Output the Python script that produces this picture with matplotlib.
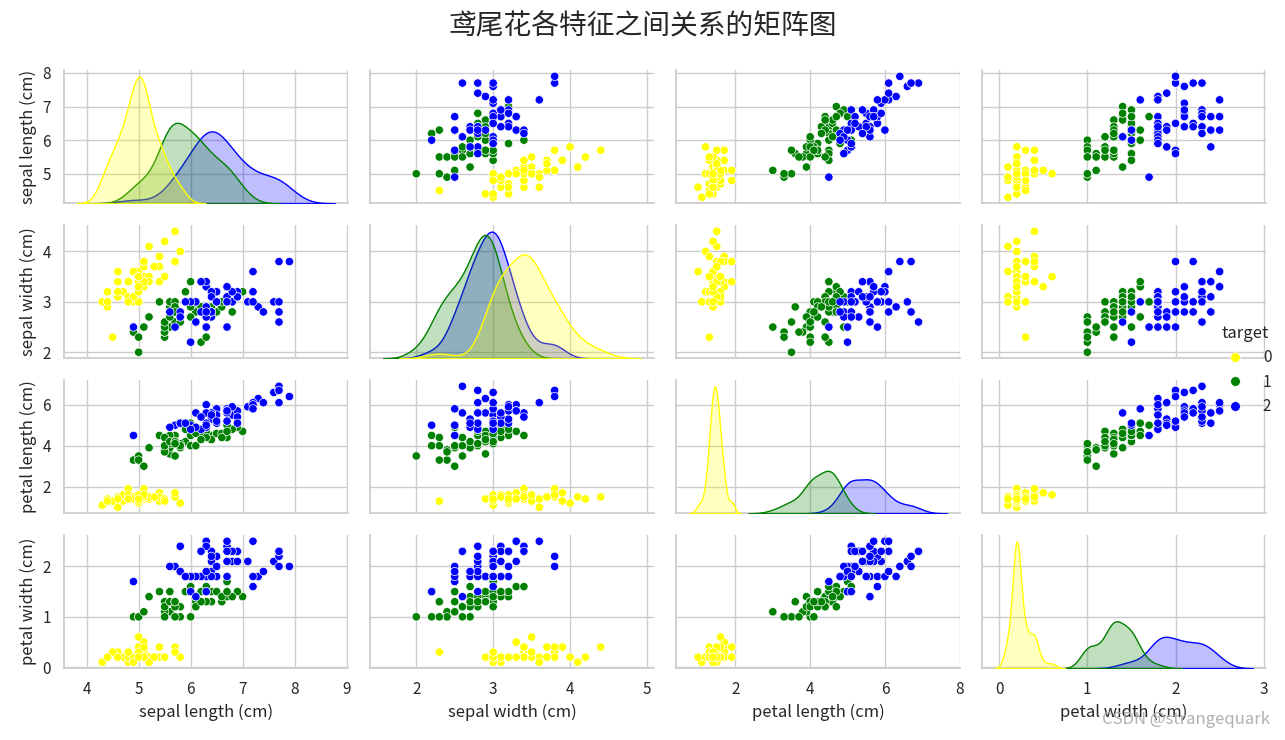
import matplotlib
matplotlib.use("Agg")
import matplotlib.pyplot as plt
import seaborn as sns
import pandas as pd

# iris data, one list per feature
sepal_length = [
    5.1, 4.9, 4.7, 4.6, 5.0, 5.4, 4.6, 5.0, 4.4, 4.9, 5.4, 4.8, 4.8, 4.3, 5.8, 5.7, 5.4, 5.1, 5.7, 5.1,
    5.4, 5.1, 4.6, 5.1, 4.8, 5.0, 5.0, 5.2, 5.2, 4.7, 4.8, 5.4, 5.2, 5.5, 4.9, 5.0, 5.5, 4.9, 4.4, 5.1,
    5.0, 4.5, 4.4, 5.0, 5.1, 4.8, 5.1, 4.6, 5.3, 5.0,
    7.0, 6.4, 6.9, 5.5, 6.5, 5.7, 6.3, 4.9, 6.6, 5.2, 5.0, 5.9, 6.0, 6.1, 5.6, 6.7, 5.6, 5.8, 6.2, 5.6,
    5.9, 6.1, 6.3, 6.1, 6.4, 6.6, 6.8, 6.7, 6.0, 5.7, 5.5, 5.5, 5.8, 6.0, 5.4, 6.0, 6.7, 6.3, 5.6, 5.5,
    5.5, 6.1, 5.8, 5.0, 5.6, 5.7, 5.7, 6.2, 5.1, 5.7,
    6.3, 5.8, 7.1, 6.3, 6.5, 7.6, 4.9, 7.3, 6.7, 7.2, 6.5, 6.4, 6.8, 5.7, 5.8, 6.4, 6.5, 7.7, 7.7, 6.0,
    6.9, 5.6, 7.7, 6.3, 6.7, 7.2, 6.2, 6.1, 6.4, 7.2, 7.4, 7.9, 6.4, 6.3, 6.1, 7.7, 6.3, 6.4, 6.0, 6.9,
    6.7, 6.9, 5.8, 6.8, 6.7, 6.7, 6.3, 6.5, 6.2, 5.9,
]
sepal_width = [
    3.5, 3.0, 3.2, 3.1, 3.6, 3.9, 3.4, 3.4, 2.9, 3.1, 3.7, 3.4, 3.0, 3.0, 4.0, 4.4, 3.9, 3.5, 3.8, 3.8,
    3.4, 3.7, 3.6, 3.3, 3.4, 3.0, 3.4, 3.5, 3.4, 3.2, 3.1, 3.4, 4.1, 4.2, 3.1, 3.2, 3.5, 3.6, 3.0, 3.4,
    3.5, 2.3, 3.2, 3.5, 3.8, 3.0, 3.8, 3.2, 3.7, 3.3,
    3.2, 3.2, 3.1, 2.3, 2.8, 2.8, 3.3, 2.4, 2.9, 2.7, 2.0, 3.0, 2.2, 2.9, 2.9, 3.1, 3.0, 2.7, 2.2, 2.5,
    3.2, 2.8, 2.5, 2.8, 2.9, 3.0, 2.8, 3.0, 2.9, 2.6, 2.4, 2.4, 2.7, 2.7, 3.0, 3.4, 3.1, 2.3, 3.0, 2.5,
    2.6, 3.0, 2.6, 2.3, 2.7, 3.0, 2.9, 2.9, 2.5, 2.8,
    3.3, 2.7, 3.0, 2.9, 3.0, 3.0, 2.5, 2.9, 2.5, 3.6, 3.2, 2.7, 3.0, 2.5, 2.8, 3.2, 3.0, 3.8, 2.6, 2.2,
    3.2, 2.8, 2.8, 2.7, 3.3, 3.2, 2.8, 3.0, 2.8, 3.0, 2.8, 3.8, 2.8, 2.8, 2.6, 3.0, 3.4, 3.1, 3.0, 3.1,
    3.1, 3.1, 2.7, 3.2, 3.3, 3.0, 2.5, 3.0, 3.4, 3.0,
]
petal_length = [
    1.4, 1.4, 1.3, 1.5, 1.4, 1.7, 1.4, 1.5, 1.4, 1.5, 1.5, 1.6, 1.4, 1.1, 1.2, 1.5, 1.3, 1.4, 1.7, 1.5,
    1.7, 1.5, 1.0, 1.7, 1.9, 1.6, 1.6, 1.5, 1.4, 1.6, 1.6, 1.5, 1.5, 1.4, 1.5, 1.2, 1.3, 1.4, 1.3, 1.5,
    1.3, 1.3, 1.3, 1.6, 1.9, 1.4, 1.6, 1.4, 1.5, 1.4,
    4.7, 4.5, 4.9, 4.0, 4.6, 4.5, 4.7, 3.3, 4.6, 3.9, 3.5, 4.2, 4.0, 4.7, 3.6, 4.4, 4.5, 4.1, 4.5, 3.9,
    4.8, 4.0, 4.9, 4.7, 4.3, 4.4, 4.8, 5.0, 4.5, 3.5, 3.8, 3.7, 3.9, 5.1, 4.5, 4.5, 4.7, 4.4, 4.1, 4.0,
    4.4, 4.6, 4.0, 3.3, 4.2, 4.2, 4.2, 4.3, 3.0, 4.1,
    6.0, 5.1, 5.9, 5.6, 5.8, 6.6, 4.5, 6.3, 5.8, 6.1, 5.1, 5.3, 5.5, 5.0, 5.1, 5.3, 5.5, 6.7, 6.9, 5.0,
    5.7, 4.9, 6.7, 4.9, 5.7, 6.0, 4.8, 4.9, 5.6, 5.8, 6.1, 6.4, 5.6, 5.1, 5.6, 6.1, 5.6, 5.5, 4.8, 5.4,
    5.6, 5.1, 5.1, 5.9, 5.7, 5.2, 5.0, 5.2, 5.4, 5.1,
]
petal_width = [
    0.2, 0.2, 0.2, 0.2, 0.2, 0.4, 0.3, 0.2, 0.2, 0.1, 0.2, 0.2, 0.1, 0.1, 0.2, 0.4, 0.4, 0.3, 0.3, 0.3,
    0.2, 0.4, 0.2, 0.5, 0.2, 0.2, 0.4, 0.2, 0.2, 0.2, 0.2, 0.4, 0.1, 0.2, 0.2, 0.2, 0.2, 0.1, 0.2, 0.2,
    0.3, 0.3, 0.2, 0.6, 0.4, 0.3, 0.2, 0.2, 0.2, 0.2,
    1.4, 1.5, 1.5, 1.3, 1.5, 1.3, 1.6, 1.0, 1.3, 1.4, 1.0, 1.5, 1.0, 1.4, 1.3, 1.4, 1.5, 1.0, 1.5, 1.1,
    1.8, 1.3, 1.5, 1.2, 1.3, 1.4, 1.4, 1.7, 1.5, 1.0, 1.1, 1.0, 1.2, 1.6, 1.5, 1.6, 1.5, 1.3, 1.3, 1.3,
    1.2, 1.4, 1.2, 1.0, 1.3, 1.2, 1.3, 1.3, 1.1, 1.3,
    2.5, 1.9, 2.1, 1.8, 2.2, 2.1, 1.7, 1.8, 1.8, 2.5, 2.0, 1.9, 2.1, 2.0, 2.4, 2.3, 1.8, 2.2, 2.3, 1.5,
    2.3, 2.0, 2.0, 1.8, 2.1, 1.8, 1.8, 1.8, 2.1, 1.6, 1.9, 2.0, 2.2, 1.5, 1.4, 2.3, 2.4, 1.8, 1.8, 2.1,
    2.4, 2.3, 1.9, 2.3, 2.5, 2.3, 1.9, 2.0, 2.3, 1.8,
]
target = [0] * 50 + [1] * 50 + [2] * 50

columns = ["sepal length (cm)", "sepal width (cm)", "petal length (cm)", "petal width (cm)"]
colors = {0: "yellow", 1: "green", 2: "blue"}

sns.set_theme(style="whitegrid")
plt.rcParams["font.family"] = ["Noto Sans CJK SC", "DejaVu Sans"]

df = pd.DataFrame({
    columns[0]: sepal_length,
    columns[1]: sepal_width,
    columns[2]: petal_length,
    columns[3]: petal_width,
    "target": target,
})

g = sns.pairplot(df, hue="target", palette=colors)
g.figure.set_size_inches(12.85, 7.4)
g.figure.subplots_adjust(left=0.05, right=0.985, top=0.905, bottom=0.097,
                         wspace=0.08, hspace=0.165)

# bigger legend dots, like the original
for h in g._legend.legend_handles:
    h.set_markersize(7)

g.figure.suptitle("鸢尾花各特征之间关系的矩阵图", fontsize=20, y=0.985)
g.figure.text(0.988, 0.016, "CSDN @strangequark", ha="right", va="bottom",
              fontsize=12, color="#b0b0b0")

g.figure.savefig("out.png", dpi=100)
